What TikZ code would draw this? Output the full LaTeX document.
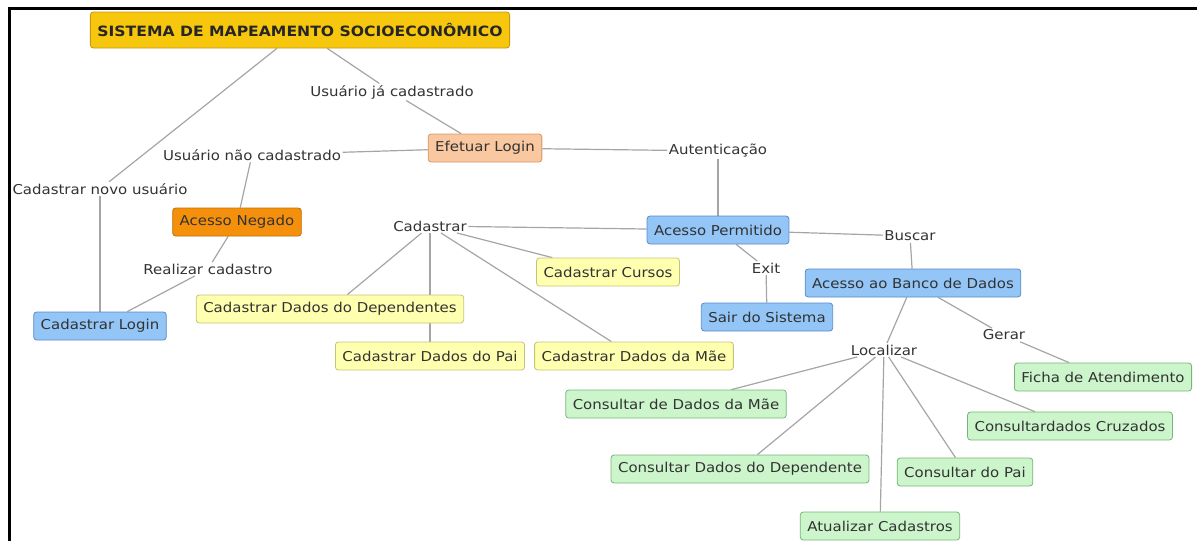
\documentclass[tikz,border=0pt]{standalone}
\usepackage{fontspec}
\setmainfont{DejaVu Sans}[FakeStretch=1.1]
\usepackage{xcolor}
\usetikzlibrary{positioning, backgrounds}
\definecolor{TitleGold}{RGB}{247,199,14}
\definecolor{TitleEdge}{RGB}{196,150,20}
\definecolor{PeachFill}{RGB}{249,200,160}
\definecolor{PeachEdge}{RGB}{214,150,100}
\definecolor{OrangeFill}{RGB}{244,144,12}
\definecolor{OrangeEdge}{RGB}{196,110,10}
\definecolor{BlueFill}{RGB}{147,197,247}
\definecolor{BlueEdge}{RGB}{90,140,200}
\definecolor{YellowFill}{RGB}{255,255,176}
\definecolor{YellowEdge}{RGB}{196,196,120}
\definecolor{GreenFill}{RGB}{204,245,204}
\definecolor{GreenEdge}{RGB}{120,180,120}
\definecolor{LineGray}{RGB}{165,165,165}
\definecolor{TextGray}{RGB}{50,50,50}

\begin{document}
\begin{tikzpicture}[x=1pt, y=-1pt, font=\fontsize{13.6}{15}\selectfont,
  concept/.style={draw, rounded corners=3pt, minimum height=28pt,
                  inner xsep=7pt, text=TextGray, line width=0.8pt},
  linkword/.style={inner sep=1.5pt, text=TextGray},
  conn/.style={LineGray, line width=1.2pt}]
\useasboundingbox (0,0) rectangle (1197,541);

% Frame
\draw[black, line width=3pt] (9,541) -- (9,8) -- (1197,8);

% Title
\node[concept, fill=TitleGold, draw=TitleEdge, minimum height=36pt,
      font=\fontsize{14.2}{16}\selectfont\bfseries, text=black!85]
  (title) at (300,30) {SISTEMA DE MAPEAMENTO SOCIOECONÔMICO};

% Login branch
\node[linkword] (ja) at (392,92) {Usuário já cadastrado};
\node[concept, fill=PeachFill, draw=PeachEdge] (login) at (485,148) {Efetuar Login};
\node[linkword] (nao) at (252,155) {Usuário não cadastrado};
\node[linkword] (aut) at (718,151) {Autenticação};
\node[linkword] (novo) at (100,189) {Cadastrar novo usuário};
\node[concept, fill=OrangeFill, draw=OrangeEdge] (negado) at (237,222) {Acesso Negado};
\node[linkword] (realizar) at (208,269) {Realizar cadastro};
\node[concept, fill=BlueFill, draw=BlueEdge] (cadlogin) at (100,326) {Cadastrar Login};

% Access branch
\node[concept, fill=BlueFill, draw=BlueEdge] (permitido) at (718,230) {Acesso Permitido};
\node[linkword] (cadastrar) at (430,226) {Cadastrar};
\node[linkword] (buscar) at (910,236) {Buscar};
\node[linkword] (exit) at (766,268) {Exit};
\node[concept, fill=BlueFill, draw=BlueEdge] (sair) at (767,317) {Sair do Sistema};
\node[concept, fill=BlueFill, draw=BlueEdge] (banco) at (913,283) {Acesso ao Banco de Dados};

% Register concepts
\node[concept, fill=YellowFill, draw=YellowEdge] (cursos) at (608,272) {Cadastrar Cursos};
\node[concept, fill=YellowFill, draw=YellowEdge] (dependentes) at (330,309) {Cadastrar Dados do Dependentes};
\node[concept, fill=YellowFill, draw=YellowEdge] (pai) at (430,356) {Cadastrar Dados do Pai};
\node[concept, fill=YellowFill, draw=YellowEdge] (mae) at (634,356) {Cadastrar Dados da Mãe};

% Database concepts
\node[linkword] (gerar) at (1004,335) {Gerar};
\node[linkword] (localizar) at (884,350) {Localizar};
\node[concept, fill=GreenFill, draw=GreenEdge] (ficha) at (1103,377) {Ficha de Atendimento};
\node[concept, fill=GreenFill, draw=GreenEdge] (cmae) at (676,404) {Consultar de Dados da Mãe};
\node[concept, fill=GreenFill, draw=GreenEdge] (cruzados) at (1070,426) {Consultardados Cruzados};
\node[concept, fill=GreenFill, draw=GreenEdge] (cdep) at (740,469) {Consultar Dados do Dependente};
\node[concept, fill=GreenFill, draw=GreenEdge] (cpai) at (965,472) {Consultar do Pai};
\node[concept, fill=GreenFill, draw=GreenEdge] (atualizar) at (880,526) {Atualizar Cadastros};

% Connections
\begin{scope}[on background layer]
\draw[conn] (title) -- (novo);
\draw[conn] (novo) -- (cadlogin);
\draw[conn] (title) -- (ja);
\draw[conn] (ja) -- (login);
\draw[conn] (login) -- (nao);
\draw[conn] (nao) -- (negado);
\draw[conn] (negado) -- (realizar);
\draw[conn] (realizar) -- (cadlogin);
\draw[conn] (login) -- (aut);
\draw[conn] (aut) -- (permitido);
\draw[conn] (permitido) -- (cadastrar);
\foreach \c in {cursos, dependentes, pai, mae}
  \draw[conn] (cadastrar) -- (\c);
\draw[conn] (permitido) -- (exit);
\draw[conn] (exit) -- (sair);
\draw[conn] (permitido) -- (buscar);
\draw[conn] (buscar) -- (banco);
\draw[conn] (banco) -- (localizar);
\draw[conn] (banco) -- (gerar);
\draw[conn] (gerar) -- (ficha);
\foreach \c in {cmae, cdep, atualizar, cpai, cruzados}
  \draw[conn] (localizar) -- (\c);
\end{scope}

\end{tikzpicture}
\end{document}
